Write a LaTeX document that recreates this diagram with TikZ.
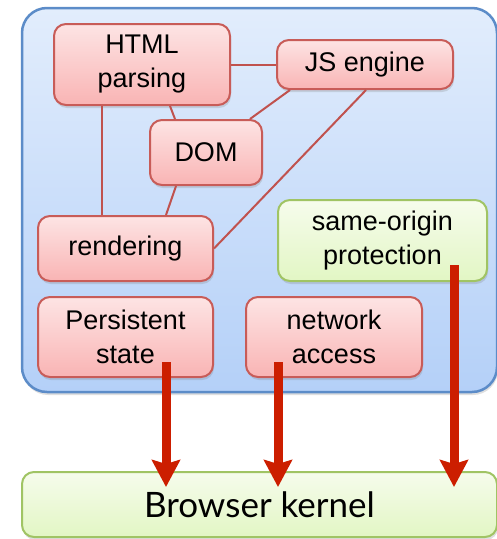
\documentclass[tikz,border=0pt]{standalone}
\usepackage{fontspec}
\setmainfont{Liberation Sans}
\newfontfamily\kernelfont{Lato}
\usepackage{tikz}
\usetikzlibrary{shadows,arrows.meta}

\definecolor{pinktop}{RGB}{253,228,228}
\definecolor{pinkbot}{RGB}{249,180,180}
\definecolor{pinkline}{RGB}{200,92,88}
\definecolor{bluetop}{RGB}{226,237,252}
\definecolor{bluebot}{RGB}{180,208,248}
\definecolor{blueline}{RGB}{92,140,200}
\definecolor{greentop}{RGB}{246,252,236}
\definecolor{greenbot}{RGB}{226,246,196}
\definecolor{greenline}{RGB}{160,196,100}
\definecolor{linkred}{RGB}{192,82,78}
\definecolor{flowred}{RGB}{204,30,0}

\begin{document}
\begin{tikzpicture}[
    x=1pt, y=-1pt,
    every node/.style={inner sep=0pt, align=center, font=\fontsize{27}{34}\selectfont},
    soft/.style={drop shadow={opacity=0.25, shadow xshift=1pt, shadow yshift=-3pt}},
    panel/.style={draw=blueline, line width=2.5pt, rounded corners=25pt,
        top color=bluetop, bottom color=bluebot, soft},
    comp/.style={draw=pinkline, line width=2pt, rounded corners=12pt,
        top color=pinktop, bottom color=pinkbot, soft},
    guard/.style={draw=greenline, line width=2pt, rounded corners=12pt,
        top color=greentop, bottom color=greenbot, soft},
    link/.style={draw=linkred, line width=2pt},
    flow/.style={draw=flowred, line width=9pt,
        -{Stealth[width=28pt, length=27pt, inset=4pt]}}
]
\useasboundingbox (0,0) rectangle (497,539);

% Browser process
\node[panel, minimum width=475, minimum height=384] (browser) at (259.5,200) {};

% Components
\node[comp, minimum width=176, minimum height=81] (html) at (142,64.5) {HTML\\parsing};
\node[comp, minimum width=176, minimum height=49] (js) at (365,64.5) {JS engine};
\node[comp, minimum width=112, minimum height=65] (dom) at (206,152.5) {DOM};
\node[comp, minimum width=175, minimum height=65] (render) at (125.5,248.5) {rendering};
\node[guard, minimum width=209, minimum height=81] (sop) at (382.5,240.5) {same-origin\\protection};
\node[comp, minimum width=175, minimum height=80] (pstate) at (125.5,337) {Persistent\\state};
\node[comp, minimum width=176, minimum height=80] (net) at (334,337) {network\\access};

% Links between components
\draw[link] (html.east) -- (js.west);
\draw[link] ([xshift=-40pt]html.south) -- ([xshift=-23.5pt]render.north);
\draw[link] ([xshift=28pt]html.south) -- ([xshift=-31pt]dom.north);
\draw[link] ([xshift=-30pt]dom.south) -- ([xshift=40.5pt]render.north);
\draw[link] ([xshift=44pt]dom.north) -- ([xshift=-75pt]js.south);
\draw[link] (render.east) -- ([xshift=1pt]js.south);

% Kernel
\node[guard, minimum width=475, minimum height=65, font=\kernelfont\fontsize{35}{40}\selectfont]
    (kernel) at (259.5,504.5) {Browser kernel};

% Calls into the kernel
\draw[flow] ([xshift=40.5pt,yshift=-25pt]pstate.center) coordinate (p1)
    -- ([yshift=-16pt]p1 |- kernel.north);
\draw[flow] ([xshift=-56pt,yshift=-25pt]net.center) coordinate (p2)
    -- ([yshift=-16pt]p2 |- kernel.north);
\draw[flow] ([xshift=71.5pt,yshift=-24.5pt]sop.center) coordinate (p3)
    -- ([yshift=-16pt]p3 |- kernel.north);
\end{tikzpicture}
\end{document}
